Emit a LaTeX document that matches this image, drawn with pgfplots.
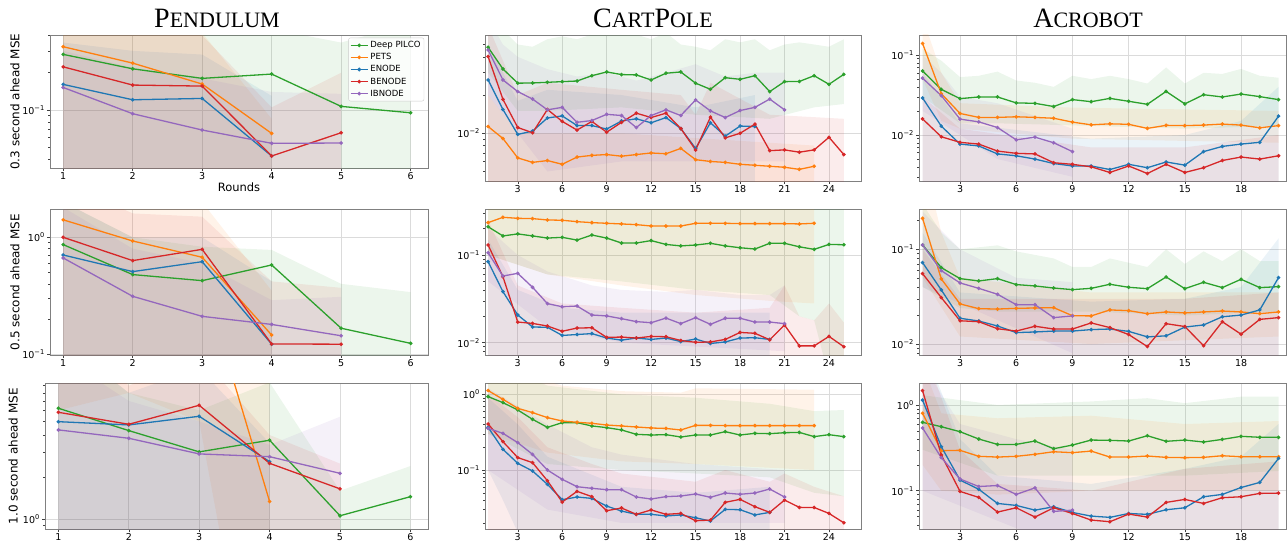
\documentclass[border=0pt]{standalone}
\usepackage{fontspec}
\setmainfont{DejaVu Sans}
\newfontfamily\titlefont{Liberation Serif}
\usepackage{pgfplots}
\pgfplotsset{compat=1.18}
\definecolor{cB}{HTML}{1F77B4}
\definecolor{cO}{HTML}{FF7F0E}
\definecolor{cG}{HTML}{2CA02C}
\definecolor{cR}{HTML}{D62728}
\definecolor{cP}{HTML}{9467BD}
\newcommand\SC[2]{{\fontsize{28}{28}\selectfont #1}{\fontsize{22}{22}\selectfont #2}}
\newcommand\series[2]{\addplot[color=#1, mark=*, mark size=1.1pt, line width=1.3pt] table[header=false,row sep=\\,x expr=\coordindex+1,y index=0] {#2};}
\newcommand\band[2]{\addplot[fill=#1, fill opacity=0.09, draw=none, forget plot] coordinates {#2};}
\pgfplotsset{every axis/.append style={
  scale only axis, anchor=south west,
  tick align=outside, tick pos=left,
  major tick length=3pt, minor tick length=1.8pt,
  every tick/.style={black!75, line width=0.5pt},
  axis line style={black!50, line width=0.7pt},
  grid=major, major grid style={black!14, line width=0.7pt},
  tick label style={font=\fontsize{9.5}{10}\selectfont},
  xticklabel style={inner sep=1.2pt},
  yticklabel style={inner sep=2pt},
  minor ytick={0.002,0.003,0.004,0.005,0.006,0.007,0.008,0.009,0.02,0.03,0.04,0.05,0.06,0.07,0.08,0.09,0.2,0.3,0.4,0.5,0.6,0.7,0.8,0.9,2,3,4,5,6,7,8,9},
  ylabel style={rotate=0, font=\fontsize{12}{12}\selectfont},
  xlabel style={font=\fontsize{11.5}{12}\selectfont},
}}
\pgfplotsset{/pgf/number format/assume math mode=true}
\begin{document}
\begin{tikzpicture}
\path[use as bounding box] (0,0) rectangle (1287pt,542pt);
\node[font=\titlefont] at (217pt,524pt) {\SC{P}{ENDULUM}};
\node[font=\titlefont] at (653pt,524pt) {\SC{C}{ART}\SC{P}{OLE}};
\node[font=\titlefont] at (1088pt,524pt) {\SC{A}{CROBOT}};

% ---------------- Row 1 Pendulum
\begin{axis}[ymode=log, at={(50pt,373.7pt)}, width=378pt, height=133.3pt,
 xmin=0.81, xmax=6.25, xtick={1,...,6},
 ymin=0.0339, ymax=0.4027, ytick={0.1}, yticklabels={10\textsuperscript{−1}},
 ylabel={0.3 second ahead MSE}, ylabel style={at={(axis description cs:-0.0926,0.5)}, anchor=center},
 xlabel={Rounds}, xlabel style={at={(axis description cs:0.5,-0.14)}, anchor=center},
 legend style={at={(0.99,0.98)}, anchor=north east, font=\fontsize{8.5}{9}\selectfont, draw=black!20, fill=white, fill opacity=0.8, text opacity=1, rounded corners=2pt, inner sep=1.5pt, row sep=0.3pt},
 legend cell align=left]
\band{cG}{(1,0.6)(2,0.6)(3,0.45)(4,0.45)(5,0.35)(6,0.5)(6,1e-4)(1,1e-4)}
\band{cO}{(1,0.6)(2,0.42)(3,0.42)(4,0.085)(4,1e-4)(1,1e-4)}
\band{cB}{(1,0.35)(2,0.3)(3,0.28)(4,0.13)(4,1e-4)(1,1e-4)}
\band{cR}{(1,0.5)(2,0.45)(3,0.4)(4,0.105)(5,0.2)(5,1e-4)(1,1e-4)}
\band{cP}{(1,0.3)(2,0.22)(3,0.18)(4,0.14)(5,0.135)(5,1e-4)(1,1e-4)}
\series{cG}{0.281\\0.215\\0.180\\0.195\\0.107\\0.095\\}
\addlegendentry{Deep PILCO}
\series{cO}{0.324\\0.239\\0.162\\0.0648\\}
\addlegendentry{PETS}
\series{cB}{0.161\\0.121\\0.124\\0.0426\\}
\addlegendentry{ENODE}
\series{cR}{0.223\\0.159\\0.156\\0.0426\\0.0656\\}
\addlegendentry{BENODE}
\series{cP}{0.152\\0.0934\\0.069\\0.0539\\0.0542\\}
\addlegendentry{IBNODE}
\end{axis}

% ---------------- Row 1 CartPole
\begin{axis}[ymode=log, at={(485pt,361pt)}, width=376pt, height=146pt,
 xmin=0.79, xmax=26.16, xtick={3,6,...,24},
 ymin=0.00421, ymax=0.0594, ytick={0.01}, yticklabels={10\textsuperscript{−2}}]
\band{cG}{(1,0.08)(2,0.065)(3,0.05)(4,0.048)(5,0.055)(6,0.058)(7,0.055)(8,0.06)(9,0.065)(10,0.062)(11,0.06)(12,0.055)(13,0.062)(14,0.05)(15,0.048)(16,0.045)(17,0.055)(18,0.052)(19,0.055)(20,0.045)(21,0.05)(22,0.052)(23,0.05)(24,0.048)(25,0.055)(25,0.017)(23,0.016)(20,0.013)(15,0.014)(10,0.016)(5,0.015)(3,0.015)(1,0.03)}
\band{cO}{(1,0.02)(3,0.01)(10,0.01)(23,0.008)(23,1e-4)(1,1e-4)}
\band{cB}{(1,0.05)(3,0.018)(5,0.022)(10,0.02)(15,0.016)(19,0.02)(19,1e-4)(1,1e-4)}
\band{cR}{(1,0.07)(3,0.02)(5,0.025)(10,0.022)(14,0.02)(15,0.014)(16,0.025)(20,0.014)(25,0.013)(25,1e-4)(1,1e-4)}
\band{cP}{(1,0.08)(2,0.05)(3,0.04)(5,0.032)(7,0.028)(9,0.03)(11,0.026)(13,0.03)(15,0.035)(17,0.028)(19,0.03)(21,0.03)(21,0.006)(15,0.006)(10,0.006)(5,0.005)(1,0.02)}
\series{cG}{0.0475\\0.0321\\0.0248\\0.0249\\0.0252\\0.0255\\0.0258\\0.0284\\0.0304\\0.029\\0.0288\\0.0263\\0.0297\\0.0304\\0.0248\\0.0222\\0.0274\\0.0266\\0.0284\\0.0213\\0.0255\\0.0256\\0.0284\\0.0243\\0.0291\\}
\series{cO}{0.0113\\0.0091\\0.0064\\0.0059\\0.0061\\0.0057\\0.0065\\0.0067\\0.0068\\0.0066\\0.0068\\0.007\\0.0069\\0.0076\\0.0062\\0.006\\0.0059\\0.0057\\0.0056\\0.0055\\0.0054\\0.0052\\0.0055\\}
\series{cB}{0.0263\\0.0154\\0.0098\\0.0104\\0.0132\\0.0137\\0.0115\\0.0115\\0.0108\\0.0125\\0.013\\0.0121\\0.0133\\0.0109\\0.0076\\0.0121\\0.0095\\0.0114\\0.0113\\}
\series{cR}{0.0402\\0.0185\\0.0111\\0.0101\\0.0154\\0.0124\\0.0106\\0.0124\\0.0102\\0.0122\\0.0144\\0.0133\\0.0144\\0.0109\\0.0074\\0.0134\\0.0092\\0.01\\0.0118\\0.0073\\0.0074\\0.0071\\0.0074\\0.0093\\0.0068\\}
\series{cP}{0.0453\\0.0263\\0.0213\\0.0186\\0.0153\\0.016\\0.0122\\0.0126\\0.0141\\0.0138\\0.0111\\0.0138\\0.0153\\0.0138\\0.0183\\0.015\\0.0133\\0.0151\\0.016\\0.0186\\0.0153\\}
\end{axis}

% ---------------- Row 1 Acrobot
\begin{axis}[ymode=log, at={(919pt,361pt)}, width=367pt, height=146pt,
 xmin=0.81, xmax=20.4, xtick={3,6,...,18},
 ymin=0.00266, ymax=0.178, ytick={0.01,0.1}, yticklabels={10\textsuperscript{−2},10\textsuperscript{−1}}]
\band{cG}{(1,0.12)(2,0.085)(3,0.053)(4,0.055)(5,0.062)(6,0.048)(7,0.045)(8,0.04)(9,0.055)(10,0.05)(11,0.055)(12,0.05)(13,0.044)(14,0.07)(15,0.044)(16,0.06)(17,0.058)(18,0.067)(19,0.055)(20,0.052)(20,0.013)(15,0.012)(10,0.013)(5,0.014)(3,0.014)(1,0.03)}
\band{cO}{(1,0.3)(2,0.06)(3,0.025)(9,0.022)(20,0.02)(20,0.008)(9,0.009)(3,0.012)(2,0.015)(1,0.05)}
\band{cB}{(1,0.06)(3,0.014)(10,0.009)(15,0.01)(18,0.015)(20,0.04)(20,1e-4)(1,1e-4)}
\band{cR}{(1,0.03)(3,0.012)(10,0.007)(15,0.007)(20,0.01)(20,1e-4)(1,1e-4)}
\band{cP}{(1,0.1)(2,0.06)(3,0.03)(5,0.025)(9,0.012)(9,0.003)(5,0.005)(1,0.02)}
\series{cG}{0.0632\\0.0372\\0.0285\\0.0299\\0.0299\\0.0252\\0.0249\\0.0227\\0.0277\\0.0261\\0.0287\\0.0264\\0.0242\\0.0351\\0.0245\\0.0319\\0.0299\\0.0325\\0.0302\\0.0277\\}
\series{cO}{0.1395\\0.0329\\0.0186\\0.0166\\0.0166\\0.0169\\0.0166\\0.0162\\0.0145\\0.0134\\0.0138\\0.0136\\0.0121\\0.0132\\0.0131\\0.0133\\0.0137\\0.0133\\0.0123\\0.0131\\}
\series{cB}{0.029\\0.0129\\0.0077\\0.0073\\0.0058\\0.0055\\0.005\\0.0044\\0.0041\\0.0041\\0.0037\\0.0043\\0.0039\\0.0046\\0.0042\\0.0062\\0.0072\\0.0077\\0.0081\\0.0172\\}
\series{cR}{0.0159\\0.0095\\0.0081\\0.0077\\0.0063\\0.0059\\0.0058\\0.0045\\0.0043\\0.004\\0.0034\\0.0041\\0.0033\\0.0043\\0.0034\\0.0039\\0.0048\\0.0053\\0.005\\0.0055\\}
\series{cP}{0.0514\\0.031\\0.0158\\0.0146\\0.0124\\0.0087\\0.0094\\0.008\\0.0062\\}
\end{axis}

% ---------------- Row 2 Pendulum
\begin{axis}[ymode=log, at={(50pt,187pt)}, width=378pt, height=145.7pt,
 xmin=0.81, xmax=6.25, xtick={1,...,6},
 ymin=0.0986, ymax=1.735, ytick={0.1,1}, yticklabels={10\textsuperscript{−1},10\textsuperscript{0}},
 ylabel={0.5 second ahead MSE}, ylabel style={at={(axis description cs:-0.0926,0.5)}, anchor=center}]
\band{cG}{(1,2)(2,1)(3,0.83)(4,0.78)(5,0.4)(6,0.34)(6,1e-3)(1,1e-3)}
\band{cO}{(1,5)(2,2)(3,2)(4,0.35)(4,1e-3)(1,1e-3)}
\band{cB}{(1,2)(2,1)(3,1)(4,0.42)(4,1e-3)(1,1e-3)}
\band{cR}{(1,3)(2,1.6)(3,1.5)(4,0.42)(5,0.37)(5,1e-3)(1,1e-3)}
\band{cP}{(1,1.8)(2,0.8)(3,0.6)(4,0.29)(5,0.31)(5,1e-3)(1,1e-3)}
\series{cG}{0.866\\0.48\\0.426\\0.58\\0.167\\0.124\\}
\series{cO}{1.41\\0.93\\0.675\\0.146\\}
\series{cB}{0.706\\0.509\\0.619\\0.122\\}
\series{cR}{1.0\\0.632\\0.789\\0.1225\\0.122\\}
\series{cP}{0.666\\0.313\\0.211\\0.18\\0.144\\}
\end{axis}

% ---------------- Row 2 CartPole
\begin{axis}[ymode=log, at={(485pt,187pt)}, width=376pt, height=145.7pt,
 xmin=0.79, xmax=26.16, xtick={3,6,...,24},
 ymin=0.00724, ymax=0.332, ytick={0.01,0.1}, yticklabels={10\textsuperscript{−2},10\textsuperscript{−1}}]
\band{cG}{(1,0.5)(25,0.5)(25,0.004)(24,0.004)(23,0.018)(22,0.02)(20,0.035)(15,0.04)(10,0.05)(5,0.06)(1,0.1)}
\band{cO}{(1,0.5)(23,0.5)(23,0.028)(20,0.03)(15,0.035)(10,0.045)(5,0.06)(1,0.1)}
\band{cB}{(1,0.15)(3,0.04)(6,0.025)(10,0.022)(15,0.022)(20,0.022)(20,1e-4)(1,1e-4)}
\band{cR}{(1,0.25)(3,0.045)(6,0.028)(10,0.025)(15,0.022)(20,0.025)(21,0.045)(22,0.02)(23,0.018)(24,0.028)(25,0.017)(25,1e-4)(1,1e-4)}
\band{cP}{(1,0.2)(3,0.1)(5,0.065)(8,0.045)(10,0.04)(13,0.038)(15,0.04)(18,0.035)(20,0.035)(21,0.045)(21,0.008)(10,0.01)(5,0.015)(1,0.05)}
\series{cG}{0.21\\0.165\\0.174\\0.165\\0.156\\0.159\\0.148\\0.169\\0.156\\0.137\\0.137\\0.146\\0.132\\0.127\\0.13\\0.136\\0.127\\0.121\\0.117\\0.136\\0.136\\0.124\\0.116\\0.132\\0.131\\}
\series{cO}{0.234\\0.269\\0.262\\0.26\\0.251\\0.249\\0.24\\0.234\\0.23\\0.226\\0.222\\0.214\\0.214\\0.214\\0.23\\0.23\\0.23\\0.228\\0.228\\0.228\\0.228\\0.226\\0.23\\}
\series{cB}{0.084\\0.0382\\0.0207\\0.0151\\0.015\\0.0121\\0.0124\\0.0127\\0.0113\\0.0107\\0.0113\\0.0109\\0.0113\\0.0103\\0.011\\0.0098\\0.0102\\0.0113\\0.0114\\0.0109\\}
\series{cR}{0.13\\0.0566\\0.0172\\0.0166\\0.0155\\0.0135\\0.0147\\0.0148\\0.0115\\0.0116\\0.0113\\0.0118\\0.0117\\0.0106\\0.0101\\0.0102\\0.0109\\0.0131\\0.0128\\0.0108\\0.0159\\0.0092\\0.0092\\0.0118\\0.009\\}
\series{cP}{0.106\\0.0576\\0.0618\\0.0428\\0.0279\\0.0257\\0.0262\\0.0207\\0.0202\\0.0188\\0.0174\\0.0169\\0.0191\\0.0165\\0.0193\\0.0162\\0.019\\0.019\\0.0172\\0.0172\\0.0165\\}
\end{axis}

% ---------------- Row 2 Acrobot
\begin{axis}[ymode=log, at={(919pt,187pt)}, width=367pt, height=145.7pt,
 xmin=0.81, xmax=20.4, xtick={3,6,...,18},
 ymin=0.00766, ymax=0.264, ytick={0.01,0.1}, yticklabels={10\textsuperscript{−2},10\textsuperscript{−1}}]
\band{cG}{(1,0.3)(2,0.15)(3,0.1)(5,0.11)(6,0.095)(8,0.08)(9,0.065)(10,0.065)(11,0.08)(13,0.065)(14,0.1)(15,0.07)(16,0.095)(17,0.075)(18,0.1)(19,0.075)(20,0.075)(20,0.022)(15,0.02)(10,0.022)(5,0.022)(3,0.024)(1,0.04)}
\band{cO}{(1,1)(2,0.15)(3,0.05)(10,0.035)(20,0.035)(20,0.012)(10,0.01)(3,0.012)(1,0.05)}
\band{cB}{(1,0.15)(3,0.035)(10,0.028)(15,0.03)(18,0.04)(20,0.13)(20,1e-4)(1,1e-4)}
\band{cR}{(1,0.1)(3,0.03)(10,0.03)(15,0.03)(20,0.035)(20,1e-4)(1,1e-4)}
\band{cP}{(1,0.25)(3,0.1)(6,0.05)(9,0.045)(9,0.008)(1,0.04)}
\series{cG}{0.111\\0.064\\0.049\\0.0463\\0.049\\0.0424\\0.041\\0.039\\0.0375\\0.0387\\0.0427\\0.0397\\0.0384\\0.051\\0.0384\\0.0448\\0.0394\\0.0482\\0.0394\\0.0403\\}
\series{cO}{0.212\\0.0486\\0.0265\\0.0236\\0.0234\\0.0238\\0.024\\0.0242\\0.0199\\0.0198\\0.0229\\0.0225\\0.0209\\0.0218\\0.0213\\0.0218\\0.0223\\0.0218\\0.0209\\0.0218\\}
\series{cB}{0.0723\\0.0372\\0.0187\\0.0175\\0.0155\\0.0132\\0.0134\\0.0137\\0.0137\\0.0142\\0.0144\\0.0136\\0.0119\\0.0122\\0.0151\\0.0159\\0.0194\\0.0202\\0.0229\\0.0502\\}
\series{cR}{0.0553\\0.0309\\0.0176\\0.0172\\0.0145\\0.0137\\0.0154\\0.0144\\0.0144\\0.0167\\0.0149\\0.0126\\0.0094\\0.0164\\0.0153\\0.0096\\0.0172\\0.0127\\0.0182\\0.019\\}
\series{cP}{0.111\\0.0595\\0.0441\\0.0387\\0.0335\\0.026\\0.026\\0.019\\0.0198\\}
\end{axis}

% ---------------- Row 3 Pendulum
\begin{axis}[ymode=log, at={(45pt,12.7pt)}, width=383pt, height=146pt,
 xmin=0.81, xmax=6.25, xtick={1,...,6},
 ymin=0.848, ymax=9.36, ytick={1}, yticklabels={10\textsuperscript{0}},
 ylabel={1.0 second ahead MSE}, ylabel style={at={(axis description cs:-0.083,0.5)}, anchor=center}]
\band{cG}{(1,20)(2,8)(3,6)(4,9.5)(5,1.6)(6,2.4)(6,1e-3)(1,1e-3)}
\band{cO}{(1,300)(2,300)(3,300)(4,10)(4,0.01)(3,5)(2,8)(1,6)}
\band{cB}{(1,20)(2,8)(3,12)(4,3.5)(4,1e-3)(1,1e-3)}
\band{cR}{(1,30)(2,9)(3,15)(4,4)(5,2.5)(5,1e-3)(1,1e-3)}
\band{cP}{(1,15)(2,7)(3,5)(4,3.4)(5,5.4)(5,1e-3)(1,1e-3)}
\series{cG}{6.21\\4.3\\3.03\\3.67\\1.06\\1.45\\}
\series{cO}{30\\45\\65\\1.34\\}
\series{cB}{4.98\\4.72\\5.44\\2.58\\}
\series{cR}{5.81\\4.77\\6.52\\2.51\\1.65\\}
\series{cP}{4.35\\3.79\\2.93\\2.8\\2.13\\}
\end{axis}

% ---------------- Row 3 CartPole
\begin{axis}[ymode=log, at={(485pt,12.7pt)}, width=376pt, height=146pt,
 xmin=0.79, xmax=26.16, xtick={3,6,...,24},
 ymin=0.01648, ymax=1.397, ytick={0.1,1}, yticklabels={10\textsuperscript{−1},10\textsuperscript{0}}]
\band{cG}{(1,3)(5,1.3)(10,1.0)(15,0.9)(20,0.75)(23,0.6)(25,0.62)(25,0.045)(23,0.05)(20,0.08)(15,0.09)(10,0.1)(5,0.12)(1,0.3)}
\band{cO}{(1,3)(5,1.5)(6,1.3)(10,1.1)(14,1.05)(15,1.2)(23,1.15)(23,0.1)(15,0.12)(10,0.13)(5,0.17)(1,0.3)}
\band{cB}{(1,0.9)(3,0.4)(5,0.15)(10,0.06)(15,0.05)(20,0.06)(20,1e-4)(3,0.015)(2,0.04)(1,0.1)}
\band{cR}{(1,1.0)(3,0.5)(5,0.2)(8,0.12)(10,0.09)(15,0.07)(17,0.1)(20,0.07)(21,0.09)(23,0.06)(25,0.045)(25,1e-4)(1,1e-4)}
\band{cP}{(1,1.2)(3,0.7)(5,0.4)(8,0.2)(10,0.16)(15,0.12)(21,0.1)(21,0.02)(10,0.02)(5,0.03)(1,0.1)}
\series{cG}{0.932\\0.776\\0.621\\0.467\\0.366\\0.422\\0.422\\0.382\\0.363\\0.338\\0.296\\0.29\\0.293\\0.273\\0.29\\0.29\\0.321\\0.29\\0.305\\0.302\\0.311\\0.314\\0.276\\0.293\\0.276\\}
\series{cO}{1.12\\0.859\\0.653\\0.573\\0.492\\0.444\\0.427\\0.414\\0.393\\0.382\\0.37\\0.359\\0.354\\0.338\\0.389\\0.389\\0.386\\0.386\\0.386\\0.386\\0.386\\0.386\\0.386\\}
\series{cB}{0.366\\0.1876\\0.1225\\0.097\\0.0647\\0.0406\\0.044\\0.0422\\0.0334\\0.0287\\0.026\\0.026\\0.0247\\0.0255\\0.0234\\0.0212\\0.0302\\0.0299\\0.0255\\0.0276\\}
\series{cR}{0.406\\0.237\\0.146\\0.125\\0.0723\\0.0378\\0.0523\\0.0445\\0.029\\0.0315\\0.026\\0.0297\\0.026\\0.0267\\0.0214\\0.0218\\0.0374\\0.041\\0.0328\\0.0276\\0.0401\\0.0321\\0.032\\0.0267\\0.0201\\}
\series{cP}{0.355\\0.305\\0.23\\0.161\\0.1\\0.0753\\0.0602\\0.0573\\0.055\\0.055\\0.044\\0.0414\\0.0445\\0.0454\\0.0482\\0.0436\\0.0497\\0.0478\\0.0497\\0.0561\\0.044\\}
\end{axis}

% ---------------- Row 3 Acrobot
\begin{axis}[ymode=log, at={(919pt,12.7pt)}, width=367pt, height=146pt,
 xmin=0.81, xmax=20.4, xtick={3,6,...,18},
 ymin=0.0355, ymax=1.79, ytick={0.1,1}, yticklabels={10\textsuperscript{−1},10\textsuperscript{0}}]
\band{cG}{(1,1.3)(5,1.0)(10,1.1)(13,1.2)(15,1.05)(18,1.25)(20,1.25)(20,0.17)(15,0.15)(10,0.15)(5,0.15)(1,0.3)}
\band{cO}{(1,3)(2,0.8)(5,0.7)(10,0.75)(15,0.6)(20,0.65)(20,0.1)(10,0.1)(5,0.09)(2,0.1)(1,0.2)}
\band{cB}{(1,5)(3,0.4)(5,0.15)(10,0.12)(15,0.18)(18,0.25)(20,0.6)(20,1e-4)(1,1e-4)}
\band{cR}{(1,5)(3,0.3)(5,0.12)(10,0.1)(15,0.18)(20,0.22)(20,1e-4)(1,1e-4)}
\band{cP}{(1,3)(3,0.6)(6,0.4)(9,0.3)(9,0.02)(1,0.1)}
\series{cG}{0.628\\0.558\\0.488\\0.401\\0.347\\0.347\\0.38\\0.309\\0.341\\0.39\\0.387\\0.38\\0.438\\0.377\\0.39\\0.37\\0.397\\0.431\\0.42\\0.42\\}
\series{cO}{0.8\\0.293\\0.296\\0.252\\0.247\\0.252\\0.266\\0.285\\0.278\\0.29\\0.247\\0.247\\0.254\\0.245\\0.243\\0.245\\0.256\\0.249\\0.249\\0.249\\}
\series{cB}{1.14\\0.326\\0.133\\0.104\\0.0711\\0.0674\\0.0594\\0.065\\0.0558\\0.0506\\0.0489\\0.0543\\0.053\\0.06\\0.0633\\0.0851\\0.0906\\0.109\\0.125\\0.238\\}
\series{cR}{1.47\\0.261\\0.0982\\0.0836\\0.0564\\0.0633\\0.0493\\0.0633\\0.0543\\0.0455\\0.0435\\0.0534\\0.0493\\0.0731\\0.0792\\0.0711\\0.0829\\0.0851\\0.0931\\0.0938\\}
\series{cP}{0.539\\0.243\\0.137\\0.112\\0.115\\0.0906\\0.108\\0.0574\\0.0594\\}
\end{axis}
\end{tikzpicture}
\end{document}
